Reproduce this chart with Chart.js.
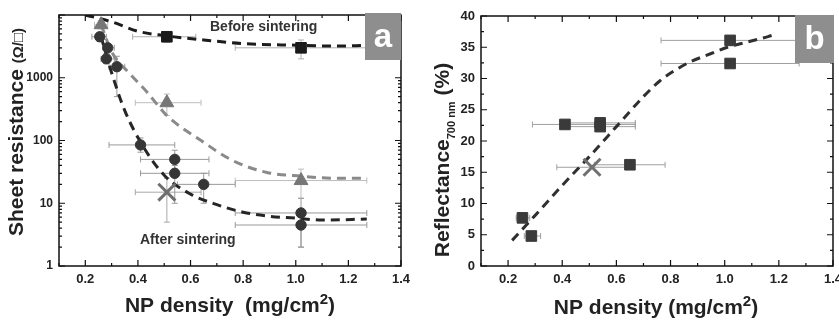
<!DOCTYPE html>
<html>
<head>
<meta charset="utf-8">
<script src="https://cdn.jsdelivr.net/npm/chart.js@4.4.1/dist/chart.umd.min.js"></script>
<style>
  html, body { margin: 0; padding: 0; background: #fff; overflow: hidden; width: 839px; height: 325px; }
  #wrapA { position: absolute; left: 0; top: 0; width: 420px; height: 325px; }
  #wrapB { position: absolute; left: 420px; top: 0; width: 432px; height: 325px; }
</style>
</head>
<body>
<div id="wrapA"><canvas id="chartA" width="420" height="325"></canvas></div>
<div id="wrapB"><canvas id="chartB" width="432" height="325"></canvas></div>
<script>
// ---- panel a: sheet resistance vs NP density ----
const beforeX = [0.51, 1.02];
const beforeY = [4500, 3000];
const beforeXErr = [[0.38, 0.62], [0.77, 1.27]];
const beforeYErr = [[3700, 5200], [2000, 4000]];

const triX = [0.26, 0.51, 1.02];
const triY = [7000, 400, 23];
const triXErr = [[0.235, 0.285], [0.39, 0.64], [0.77, 1.27]];
const triYErr = [[6000, 8000], [250, 550], [12, 35]];

const afterX = [0.255, 0.285, 0.28, 0.32, 0.41, 0.54, 0.54, 0.65, 1.02, 1.02];
const afterY = [4500, 3000, 2000, 1500, 85, 50, 30, 20, 7, 4.5];
const afterXErr = [[0.225, 0.28], [0.27, 0.31], [0.26, 0.31], [0.29, 0.35], [0.29, 0.54],
                   [0.41, 0.67], [0.41, 0.67], [0.55, 0.77], [0.77, 1.27], [0.77, 1.27]];
const afterYErr = [[3800, 5200], [2600, 3500], [1700, 2400], [500, 2200], [65, 110],
                   [35, 70], [10, 40], [10, 30], [2, 12], [2, 7]];

const crossAX = [0.51];
const crossAY = [15];
const crossAXErr = [[0.39, 0.64]];
const crossAYErr = [[5, 25]];

// dashed trend curves
const fitBeforeX = [0.2, 0.3, 0.4, 0.5, 0.65, 0.8, 1.0, 1.15, 1.27];
const fitBeforeY = [10000, 7800, 5500, 4700, 4000, 3500, 3300, 3200, 3280];
const fitGrayX = [0.26, 0.3, 0.37, 0.43, 0.51, 0.64, 0.76, 0.89, 1.02, 1.15, 1.27];
const fitGrayY = [7000, 2600, 1150, 620, 250, 100, 48, 31, 27, 25, 25];
const fitAfterX = [0.26, 0.3, 0.35, 0.42, 0.5, 0.6, 0.7, 0.8, 0.9, 1.0, 1.1, 1.27];
const fitAfterY = [4500, 1200, 300, 80, 28, 14, 9.5, 7.2, 6.2, 5.8, 5.4, 5.6];

const xTicksA = [0.2, 0.4, 0.6, 0.8, 1.0, 1.2, 1.4];
const yTicksA = [1, 10, 100, 1000];

// ---- panel b: reflectance vs NP density ----
const reflX = [1.02, 1.02, 0.41, 0.54, 0.54, 0.65, 0.253, 0.286];
const reflY = [36.1, 32.4, 22.65, 22.9, 22.3, 16.2, 7.7, 4.8];
const reflXErr = [[0.765, 1.28], [0.765, 1.275], [0.29, 0.67], [0.41, 0.67], [0.41, 0.67],
                  [0.52, 0.78], [0.23, 0.28], [0.26, 0.32]];
const crossBX = [0.51];
const crossBY = [15.8];
const crossBXErr = [[0.38, 0.64]];

const fitReflX = [0.215, 0.3, 0.4, 0.5, 0.6, 0.7, 0.76, 0.82, 0.87, 0.95, 1.01, 1.08, 1.16, 1.19];
const fitReflY = [4.1, 8.1, 12.9, 17.5, 22.3, 27.1, 29.6, 31.4, 32.6, 34.0, 35.0, 35.8, 36.7, 37.1];

const xTicksB = [0.2, 0.4, 0.6, 0.8, 1.0, 1.2, 1.4];
const yTicksB = [0, 5, 10, 15, 20, 25, 30, 35, 40];

const FONT = '"Liberation Sans", Arial, sans-serif';

function pts(xs, ys) {
    return xs.map((x, i) => ({ x: x, y: ys[i] }));
}

function drawErrors(ctx, sx, sy, xs, ys, xErr, yErr, color) {
    ctx.save();
    ctx.strokeStyle = color;
    ctx.lineWidth = 1;
    xs.forEach((x, i) => {
        const py = sy.getPixelForValue(ys[i]);
        const px = sx.getPixelForValue(x);
        if (xErr && xErr[i]) {
            const a = sx.getPixelForValue(xErr[i][0]);
            const b = sx.getPixelForValue(xErr[i][1]);
            ctx.beginPath();
            ctx.moveTo(a, py); ctx.lineTo(b, py);
            ctx.moveTo(a, py - 3); ctx.lineTo(a, py + 3);
            ctx.moveTo(b, py - 3); ctx.lineTo(b, py + 3);
            ctx.stroke();
        }
        if (yErr && yErr[i]) {
            const a = sy.getPixelForValue(yErr[i][0]);
            const b = sy.getPixelForValue(yErr[i][1]);
            ctx.beginPath();
            ctx.moveTo(px, a); ctx.lineTo(px, b);
            ctx.moveTo(px - 3, a); ctx.lineTo(px + 3, a);
            ctx.moveTo(px - 3, b); ctx.lineTo(px + 3, b);
            ctx.stroke();
        }
    });
    ctx.restore();
}

// frame with inward ticks on all four sides
function drawFrame(ctx, chart, xMinor, xMajor, yMinor, yMajor) {
    const a = chart.chartArea;
    const sx = chart.scales.x, sy = chart.scales.y;
    ctx.save();
    ctx.strokeStyle = '#111';
    ctx.lineWidth = 1.5;
    ctx.strokeRect(a.left, a.top, a.right - a.left, a.bottom - a.top);
    ctx.lineWidth = 1.2;
    ctx.beginPath();
    xMinor.forEach(v => {
        const len = xMajor.some(m => Math.abs(m - v) < 1e-6) ? 6 : 3;
        const p = sx.getPixelForValue(v);
        ctx.moveTo(p, a.bottom); ctx.lineTo(p, a.bottom - len);
        ctx.moveTo(p, a.top); ctx.lineTo(p, a.top + len);
    });
    yMinor.forEach(v => {
        const len = yMajor.some(m => Math.abs(m - v) < 1e-6 * Math.max(1, m)) ? 6 : 3;
        const p = sy.getPixelForValue(v);
        ctx.moveTo(a.left, p); ctx.lineTo(a.left + len, p);
        ctx.moveTo(a.right, p); ctx.lineTo(a.right - len, p);
    });
    ctx.stroke();
    ctx.restore();
}

function drawLetterBox(ctx, x, y, w, h, letter) {
    ctx.save();
    ctx.fillStyle = '#8e8e8e';
    ctx.fillRect(x, y, w, h);
    ctx.fillStyle = '#fff';
    ctx.font = 'bold 33px ' + FONT;
    ctx.textAlign = 'center';
    ctx.textBaseline = 'middle';
    ctx.fillText(letter, x + w / 2, y + h / 2 + 1);
    ctx.restore();
}

// draws a run of [text, fontSize, baselineShift] pieces centred on cx
function drawRuns(ctx, runs, cx, cy) {
    let total = 0;
    runs.forEach(r => { ctx.font = 'bold ' + r[1] + 'px ' + FONT; total += ctx.measureText(r[0]).width; });
    let x = cx - total / 2;
    runs.forEach(r => {
        ctx.font = 'bold ' + r[1] + 'px ' + FONT;
        ctx.fillText(r[0], x, cy + r[2]);
        x += ctx.measureText(r[0]).width;
    });
}

function range(from, to, step) {
    const out = [];
    for (let v = from; v <= to + 1e-9; v += step) out.push(Math.round(v * 1000) / 1000);
    return out;
}

const logMinor = [];
[1, 10, 100, 1000].forEach(d => { for (let k = 1; k <= 9; k++) logMinor.push(k * d); });
logMinor.push(10000);

const panelA = {
    id: 'panelA',
    beforeDatasetsDraw(chart) {
        const ctx = chart.ctx, sx = chart.scales.x, sy = chart.scales.y;
        drawErrors(ctx, sx, sy, triX, triY, triXErr, triYErr, '#bdbdbd');
        drawErrors(ctx, sx, sy, beforeX, beforeY, beforeXErr, beforeYErr, '#b0b0b0');
        drawErrors(ctx, sx, sy, crossAX, crossAY, crossAXErr, crossAYErr, '#a8a8a8');
        drawErrors(ctx, sx, sy, afterX, afterY, afterXErr, afterYErr, '#9a9a9a');
    },
    afterDraw(chart) {
        const ctx = chart.ctx;
        drawFrame(ctx, chart, range(0.1, 1.4, 0.1), xTicksA, logMinor, [1, 10, 100, 1000, 10000]);
        ctx.save();
        ctx.fillStyle = '#333';
        ctx.font = 'bold 14px ' + FONT;
        ctx.textBaseline = 'middle';
        ctx.fillText('Before sintering', 210, 27);
        ctx.fillText('After sintering', 140, 240);
        ctx.fillStyle = '#222';
        ctx.textBaseline = 'alphabetic';
        drawRuns(ctx, [['NP density  (mg/cm', 21, 0], ['2', 15, -8], [')', 21, 0]], 230, 312);
        ctx.translate(23, 132);
        ctx.rotate(-Math.PI / 2);
        drawRuns(ctx, [['Sheet resistance ', 21, 0], ['(\u03A9/\u25A1)', 15, 0]], 0, 0);
        ctx.restore();
        drawLetterBox(ctx, 365, 13, 36, 47, 'a');
    }
};

const panelB = {
    id: 'panelB',
    beforeDatasetsDraw(chart) {
        const ctx = chart.ctx, sx = chart.scales.x, sy = chart.scales.y;
        drawErrors(ctx, sx, sy, reflX, reflY, reflXErr, null, '#a0a0a0');
        drawErrors(ctx, sx, sy, crossBX, crossBY, crossBXErr, null, '#a0a0a0');
    },
    afterDraw(chart) {
        const ctx = chart.ctx;
        drawFrame(ctx, chart, range(0.1, 1.4, 0.1), xTicksB, range(0, 40, 2.5), yTicksB);
        ctx.save();
        ctx.fillStyle = '#222';
        ctx.textBaseline = 'alphabetic';
        drawRuns(ctx, [['NP density (mg/cm', 21, 0], ['2', 15, -8], [')', 21, 0]], 236, 314);
        ctx.translate(29, 160);
        ctx.rotate(-Math.PI / 2);
        drawRuns(ctx, [['Reflectance', 21, 0], ['700 nm', 11, 6], [' (%)', 21, 0]], 0, 0);
        ctx.restore();
        drawLetterBox(ctx, 375, 15, 39, 48, 'b');
    }
};

function tickFont(size) {
    return { family: FONT, size: size, weight: 'bold' };
}

function makeX(ticks, labelSize) {
    return {
        type: 'linear', min: 0.1, max: 1.4,
        afterBuildTicks: s => { s.ticks = ticks.map(v => ({ value: v })); },
        afterFit: s => { s.height = 59; },
        grid: { display: false, drawTicks: false },
        border: { display: false },
        ticks: { color: '#222', font: tickFont(labelSize), padding: 6, maxRotation: 0,
                 callback: v => Number(v).toFixed(1) }
    };
}

function curve(xs, ys, color) {
    return {
        data: pts(xs, ys), showLine: true, borderColor: color, borderWidth: 3,
        borderDash: [9, 6], pointRadius: 0, cubicInterpolationMode: 'monotone', fill: false
    };
}

window.onload = () => {
    new Chart(document.getElementById('chartA'), {
        type: 'scatter',
        data: {
            datasets: [
                { data: pts(afterX, afterY), pointStyle: 'circle', pointRadius: 5.2,
                  backgroundColor: '#363636', borderColor: '#363636' },
                { data: pts(beforeX, beforeY), pointStyle: 'rect', pointRadius: 7.5,
                  backgroundColor: '#1a1a1a', borderColor: '#1a1a1a' },
                { data: pts(triX, triY), pointStyle: 'triangle', pointRadius: 8,
                  backgroundColor: '#767676', borderColor: '#767676' },
                { data: pts(crossAX, crossAY), pointStyle: 'crossRot', pointRadius: 12,
                  borderColor: '#6e6e6e', borderWidth: 3 },
                curve(fitBeforeX, fitBeforeY, '#1c1c1c'),
                curve(fitGrayX, fitGrayY, '#8a8a8a'),
                curve(fitAfterX, fitAfterY, '#262626')
            ]
        },
        options: {
            responsive: false, animation: false, devicePixelRatio: 1,
            layout: { padding: { left: 0, right: 19, top: 14, bottom: 0 } },
            plugins: { legend: { display: false }, tooltip: { enabled: false } },
            scales: {
                x: makeX(xTicksA, 13),
                y: {
                    type: 'logarithmic', min: 1, max: 10000,
                    afterBuildTicks: s => { s.ticks = yTicksA.map(v => ({ value: v })); },
                    afterFit: s => { s.width = 59; },
                    grid: { display: false, drawTicks: false },
                    border: { display: false },
                    ticks: { color: '#222', font: tickFont(12), padding: 6, callback: v => String(v) }
                }
            }
        },
        plugins: [panelA]
    });

    new Chart(document.getElementById('chartB'), {
        type: 'scatter',
        data: {
            datasets: [
                { data: pts(reflX, reflY), pointStyle: 'rect', pointRadius: 7.5,
                  backgroundColor: '#3a3a3a', borderColor: '#3a3a3a' },
                { data: pts(crossBX, crossBY), pointStyle: 'crossRot', pointRadius: 12,
                  borderColor: '#707070', borderWidth: 3 },
                curve(fitReflX, fitReflY, '#303030')
            ]
        },
        options: {
            responsive: false, animation: false, devicePixelRatio: 1,
            layout: { padding: { left: 0, right: 19, top: 16, bottom: 0 } },
            plugins: { legend: { display: false }, tooltip: { enabled: false } },
            scales: {
                x: makeX(xTicksB, 13),
                y: {
                    type: 'linear', min: 0, max: 40,
                    afterBuildTicks: s => { s.ticks = yTicksB.map(v => ({ value: v })); },
                    afterFit: s => { s.width = 61; },
                    grid: { display: false, drawTicks: false },
                    border: { display: false },
                    ticks: { color: '#222', font: tickFont(13), padding: 6 }
                }
            }
        },
        plugins: [panelB]
    });
};
</script>
</body>
</html>
